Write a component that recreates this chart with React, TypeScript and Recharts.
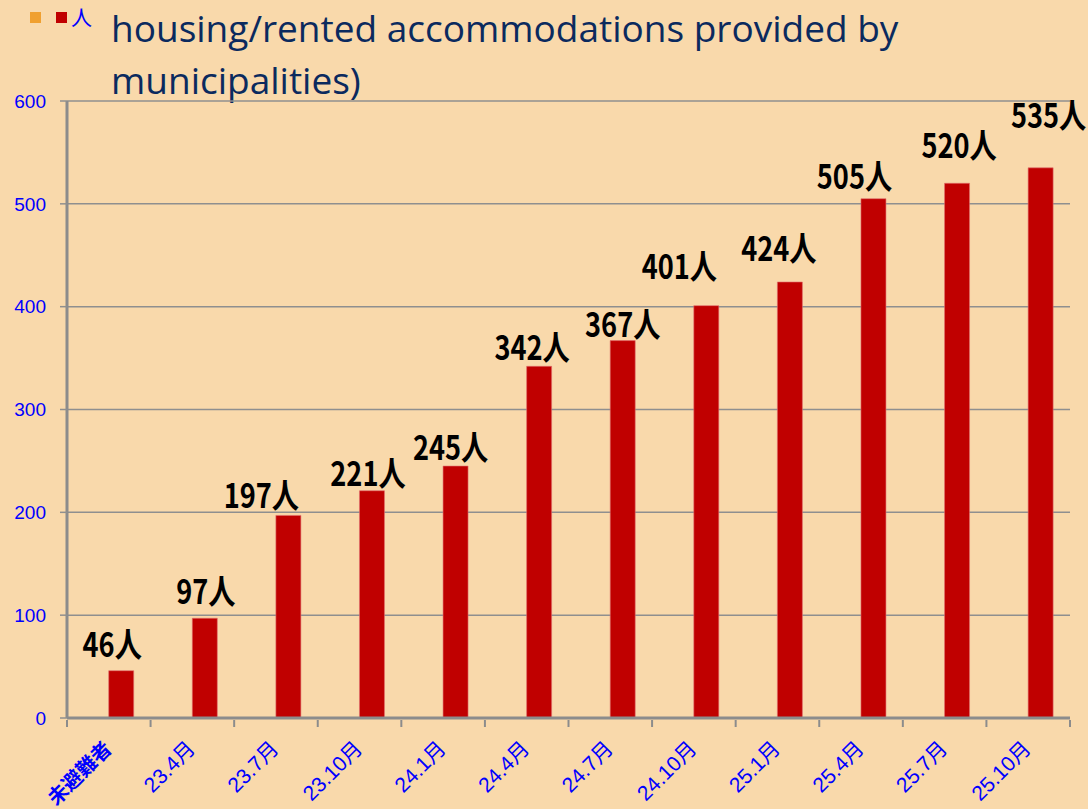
import React from "react";
import { BarChart, Bar, XAxis, YAxis, CartesianGrid, LabelList } from "recharts";

const categories = [
  "未避難者",
  "23.4月",
  "23.7月",
  "23.10月",
  "24.1月",
  "24.4月",
  "24.7月",
  "24.10月",
  "25.1月",
  "25.4月",
  "25.7月",
  "25.10月",
];
const people = [46, 97, 197, 221, 245, 342, 367, 401, 424, 505, 520, 535];
const yTicks = [0, 100, 200, 300, 400, 500, 600];

// hand-placed label nudges in the original: [dx from bar centre, gap above bar]
const labelNudge = [
  [-9, 12], [1, 12], [-27, 5], [-4, 3], [-5, 4], [-7, 4],
  [0, 2], [-27, 25], [-11, 19], [-19, 8], [2, 23], [8, 38],
];

const data = categories.map((name, i) => ({ name, other: null, people: people[i] }));

const W = 1088;
const H = 809;
const PLOT_LEFT = 67;
const PLOT_RIGHT = 1070;
const STEP = (PLOT_RIGHT - PLOT_LEFT) / categories.length;

const XTick = (props: any) => {
  const { x, y, payload, index } = props;
  const ax = x + 4;
  const ay = y + 30;
  return (
    <g>
      <line x1={x - STEP / 2} y1={y} x2={x - STEP / 2} y2={y + 7} stroke="#8c8c8c" strokeWidth={2} />
      {index === categories.length - 1 && (
        <line x1={x + STEP / 2} y1={y} x2={x + STEP / 2} y2={y + 7} stroke="#8c8c8c" strokeWidth={2} />
      )}
      <text
        x={ax}
        y={ay}
        transform={`rotate(-45 ${ax} ${ay})`}
        textAnchor="end"
        fill="#0000ff"
        fontSize={index === 0 ? 20 : 21}
        fontWeight={index === 0 ? "bold" : "normal"}
        fontFamily="'Liberation Sans', 'Noto Sans CJK JP', sans-serif"
      >
        {payload.value}
      </text>
    </g>
  );
};

const ValueLabel = (props: any) => {
  const { x, y, width, value, index } = props;
  const [dx, gap] = labelNudge[index] || [0, 8];
  const cx = x + width / 2 + dx;
  const by = y - gap - 2;
  return (
    <text
      x={cx}
      y={by}
      transform={`translate(${cx} 0) scale(0.8 1) translate(${-cx} 0)`}
      textAnchor="middle"
      fill="#000"
      fontSize={34}
      fontWeight="bold"
      fontFamily="'Noto Sans CJK JP', sans-serif"
    >
      {value}人
    </text>
  );
};

export default function App() {
  return (
    <div style={{ position: "absolute", left: 0, top: 0, width: W, height: H, background: "#f9d9ab", overflow: "hidden" }}>
      <div style={{ position: "absolute", left: 30, top: 12, width: 11, height: 11, background: "#f0a030" }} />
      <div style={{ position: "absolute", left: 56, top: 12, width: 11, height: 11, background: "#c00000" }} />
      <div
        style={{
          position: "absolute",
          left: 71,
          top: 4,
          color: "#0000ff",
          fontSize: 21,
          fontFamily: "'Noto Sans CJK JP', sans-serif",
          lineHeight: "24px",
        }}
      >
        人
      </div>
      <div
        style={{
          position: "absolute",
          left: 111,
          top: 2,
          color: "#0b2a5e",
          fontSize: 37,
          lineHeight: "52px",
          fontFamily: "'Open Sans', sans-serif",
          whiteSpace: "pre",
        }}
      >
        {"housing/rented accommodations provided by\nmunicipalities)"}
      </div>
      <BarChart
        width={W}
        height={H}
        data={data}
        margin={{ top: 101, right: W - PLOT_RIGHT, bottom: 0, left: 0 }}
        barCategoryGap="20%"
        barGap={0}
      >
        <CartesianGrid vertical={false} stroke="#8f8f8f" strokeWidth={1.5} />
        <XAxis
          dataKey="name"
          height={H - 718}
          axisLine={{ stroke: "#8c8c8c", strokeWidth: 3 }}
          tickLine={false}
          tickSize={0}
          interval={0}
          tick={<XTick />}
        />
        <YAxis
          width={PLOT_LEFT}
          domain={[0, 600]}
          ticks={yTicks}
          axisLine={{ stroke: "#8c8c8c", strokeWidth: 3 }}
          tickLine={{ stroke: "#8f8f8f", strokeWidth: 1.5 }}
          tickSize={7}
          tickMargin={14}
          tick={{ fill: "#0000ff", fontSize: 19, fontFamily: "'Liberation Sans', sans-serif" }}
        />
        <Bar dataKey="other" fill="#f0a030" isAnimationActive={false} />
        <Bar dataKey="people" fill="#c00000" stroke="#e07070" strokeWidth={0.6} isAnimationActive={false}>
          <LabelList dataKey="people" content={<ValueLabel />} />
        </Bar>
      </BarChart>
    </div>
  );
}
